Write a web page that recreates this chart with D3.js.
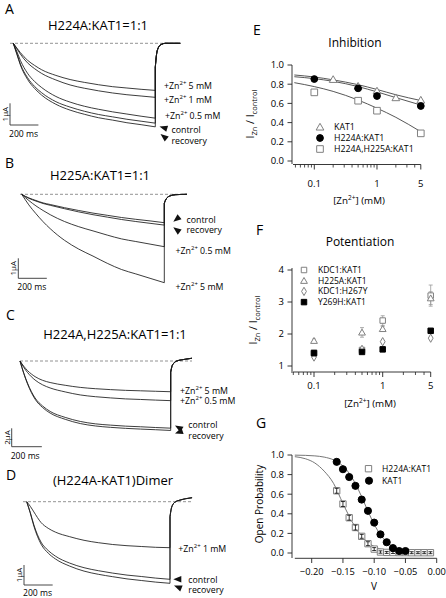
<!DOCTYPE html>
<html><head><meta charset="utf-8">
<script src="https://cdn.jsdelivr.net/npm/d3@7"></script>
<style>body{margin:0;background:#fff}svg{display:block;font-family:"Open Sans",sans-serif}</style>
</head><body><svg id="c" width="446" height="598"></svg>
<script>
// ================= DATA =================
// Current traces (µA) sampled at these times (ms) during the 1 s step
const stepTimes = [0,25,50,100,150,200,300,400,500,600,700,800,900,1000];

// Panel A  H224A:KAT1=1:1
const aZn5     = [0,-0.22,-0.43,-0.78,-1.02,-1.22,-1.48,-1.67,-1.80,-1.91,-2.00,-2.06,-2.12,-2.17];
const aZn1     = [0,-0.25,-0.50,-0.90,-1.17,-1.39,-1.69,-1.92,-2.07,-2.19,-2.29,-2.37,-2.43,-2.49];
const aZn05    = [0,-0.38,-0.79,-1.38,-1.76,-2.04,-2.45,-2.71,-2.90,-3.04,-3.16,-3.26,-3.36,-3.45];
const aControl = [0,-0.48,-0.96,-1.58,-1.99,-2.28,-2.69,-2.94,-3.13,-3.28,-3.39,-3.50,-3.59,-3.68];
const aRecov   = [0,-0.50,-1.00,-1.66,-2.08,-2.39,-2.81,-3.08,-3.27,-3.43,-3.54,-3.66,-3.75,-3.85];
const aTailT   = [0,8,20,40,70,110,176];
const aTail    = [-1.1,-0.55,-0.22,-0.06,0,0,0];

// Panel B  H225A:KAT1=1:1
const bControl = [0,-0.10,-0.18,-0.31,-0.43,-0.51,-0.67,-0.81,-0.94,-1.05,-1.16,-1.25,-1.33,-1.42];
const bRecov   = [0,-0.11,-0.20,-0.34,-0.46,-0.55,-0.72,-0.88,-1.02,-1.14,-1.26,-1.36,-1.45,-1.54];
const bZn05    = [0,-0.16,-0.31,-0.58,-0.81,-1.02,-1.36,-1.62,-1.83,-2.04,-2.23,-2.36,-2.49,-2.62];
const bZn5     = [0,-0.27,-0.53,-0.97,-1.37,-1.72,-2.30,-2.74,-3.09,-3.45,-3.76,-3.98,-4.20,-4.42];
const bTailT   = [0,8,20,40,80,159];
const bTail    = [-0.45,-0.3,-0.17,-0.08,-0.02,0];

// Panel C  H224A,H225A:KAT1=1:1
const cZn5     = [0,-0.57,-1.04,-1.70,-2.10,-2.34,-2.64,-2.87,-3.01,-3.11,-3.19,-3.24,-3.29,-3.34];
const cZn05    = [0,-0.69,-1.25,-2.07,-2.59,-2.93,-3.36,-3.69,-3.88,-4.01,-4.12,-4.18,-4.25,-4.31];
const cControl = [0,-1.31,-2.41,-4.02,-4.89,-5.48,-6.13,-6.57,-6.83,-6.97,-7.08,-7.15,-7.23,-7.30];
const cRecov   = [0,-1.36,-2.49,-4.15,-5.06,-5.66,-6.34,-6.80,-7.06,-7.21,-7.32,-7.40,-7.47,-7.55];
const cTailT   = [0,8,20,40,70,100,141];
const cTail    = [-1.2,-0.6,-0.25,0,0.12,0.2,0.3];

// Panel D  (H224A-KAT1)Dimer
const dZn1     = [0,-0.23,-0.51,-1.04,-1.33,-1.52,-1.75,-1.93,-2.05,-2.14,-2.20,-2.24,-2.28,-2.30];
const dControl = [0,-0.54,-1.16,-2.02,-2.44,-2.72,-3.07,-3.30,-3.45,-3.57,-3.67,-3.74,-3.82,-3.88];
const dRecov   = [0,-0.57,-1.22,-2.12,-2.57,-2.86,-3.22,-3.47,-3.63,-3.75,-3.86,-3.94,-4.02,-4.08];
const dTailT   = [0,8,20,40,70,110,154];
const dTail    = [-0.75,-0.38,-0.14,0,0.08,0.15,0.2];

// Panel E  Inhibition  (conc mM, Izn/Icontrol)
const eKAT1Conc  = [0.2,0.5,1,2,5];
const eKAT1Val   = [0.85,0.78,0.73,0.66,0.635];
const eH224AConc = [0.1,0.5,1,5];
const eH224AVal  = [0.854,0.757,0.677,0.573];
const eDMConc    = [0.1,0.5,1,5];
const eDMVal     = [0.715,0.628,0.524,0.288];
const eFitConc   = [0.048,0.1,0.2,0.5,1,2,5];
const eKAT1Fit   = [0.896,0.875,0.845,0.795,0.745,0.69,0.63];
const eH224AFit  = [0.878,0.858,0.83,0.775,0.72,0.66,0.583];
const eDMFit     = [0.816,0.775,0.725,0.635,0.55,0.455,0.305];
const eLegend    = ["KAT1","H224A:KAT1","H224A,H225A:KAT1"];
const eYTicks    = [0,0.2,0.4,0.6,0.8,1.0];
const logMajor   = [0.1,1,5];
const logMinor   = [0.05,0.06,0.07,0.08,0.09,0.2,0.3,0.4,0.5,0.6,0.7,0.8,0.9,2,3,4];

// Panel F  Potentiation
const fConc      = [0.1,0.5,1,5];
const fKDC1      = [1.42,1.5,2.42,3.2];
const fKDC1Err   = [0.05,0.06,0.15,0.33];
const fH225A     = [1.79,2.05,2.16,3.12];
const fH225AErr  = [0.05,0.15,0.08,0.2];
const fH267Y     = [1.28,1.52,1.76,1.87];
const fY269H     = [1.40,1.44,1.52,2.10];
const fLegend    = ["KDC1:KAT1","H225A:KAT1","KDC1:H267Y","Y269H:KAT1"];
const fYTicks    = [1,2,3,4];

// Panel G  Open probability vs V
const gKAT1V   = [-0.16,-0.15,-0.14,-0.13,-0.12,-0.11,-0.10,-0.09,-0.08,-0.07,-0.06,-0.05];
const gKAT1P   = [0.93,0.855,0.775,0.685,0.545,0.43,0.31,0.19,0.11,0.05,0.02,0.02];
const gH224AV  = [-0.16,-0.15,-0.14,-0.13,-0.12,-0.11,-0.10,-0.09,-0.08,-0.07,-0.06,-0.05,-0.04,-0.03,-0.02,-0.01];
const gH224AP  = [0.635,0.50,0.36,0.26,0.17,0.095,0.04,0.01,0.006,0.005,0.004,0.004,0.003,0.003,0.003,0.003];
const gH224AErr= [0.025,0.025,0.025,0.025,0.02,0.02,0.015,0.012,0.01,0.01,0.01,0.01,0.01,0.01,0.01,0.01];
const gFitV     = [-0.227,-0.21,-0.195,-0.18,-0.165,-0.15,-0.14,-0.13,-0.12,-0.11,-0.10,-0.09,-0.08,-0.07,-0.06,-0.05,-0.04,-0.03,-0.02,-0.01];
const gKAT1Fit  = [0.9987,0.9963,0.991,0.9785,0.95,0.887,0.813,0.707,0.573,0.427,0.293,0.187,0.113,0.066,0.038,0.0215,0.012,0.0067,0.0037,0.002];
const gH224AFit = [0.983,0.9616,0.9184,0.835,0.71,0.505,0.375,0.26,0.171,0.108,0.066,0.040,0.024,0.014,0.0083,0.0049,0.0029,0.002,0.001,0.0006];
const gXTicks   = [-0.20,-0.15,-0.10,-0.05,0.00];
const gYTicks   = [0,0.2,0.4,0.6,0.8,1.0];
const gLegend   = ["H224A:KAT1","KAT1"];

// ================= DRAWING =================
const svg = d3.select("#c");
const GRAY = "#808080";

function znLabel(g, x, y, conc, fs) {
  fs = fs || 8.8;
  const t = g.append("text").attr("x", x).attr("y", y).attr("font-size", fs);
  t.append("tspan").text("+Zn");
  t.append("tspan").attr("font-size", fs*0.68).attr("dy", -3.6).text("2+");
  t.append("tspan").attr("dy", 3.6).text(" " + conc);
}
function plainLabel(g, x, y, s, fs) {
  g.append("text").attr("x", x).attr("y", y).attr("font-size", fs || 8.8).text(s);
}
function arrow(g, tx, ty, dx, dy) {
  const L = 8, W = 3.2, n = Math.hypot(dx, dy);
  const ux = dx/n, uy = dy/n, px = -uy, py = ux;
  const bx = tx - L*ux, by = ty - L*uy;
  g.append("path")
    .attr("d", `M${tx},${ty}L${bx+W*px},${by+W*py}L${bx-W*px},${by-W*py}Z`)
    .attr("fill", "#111");
}

function tracePanel(cfg) {
  const g = svg.append("g");
  const x = d3.scaleLinear().domain([0, 1000]).range([cfg.x0, cfg.x0 + 1000*cfg.pxms]);
  const y = d3.scaleLinear().domain([0, -1]).range([cfg.y0, cfg.y0 + cfg.pxua]);
  g.append("text").attr("x", cfg.letter[0]).attr("y", cfg.letter[1]).attr("font-size", 14).text(cfg.letterText);
  g.append("text").attr("x", cfg.title[0]).attr("y", cfg.title[1]).attr("text-anchor", "middle")
    .attr("font-size", 13).text(cfg.titleText);
  g.append("line").attr("x1", cfg.dash[0]).attr("x2", cfg.dash[1]).attr("y1", y(0)).attr("y2", y(0))
    .attr("stroke", "#777").attr("stroke-width", 0.8).attr("stroke-dasharray", "3,2");
  const line = d3.line().x(d => x(d[0])).y(d => y(d[1])).curve(d3.curveMonotoneX);
  cfg.traces.forEach(tr => {
    const step = stepTimes.map((t, i) => [t, tr[i]]);
    const tail = cfg.tailT.map((t, i) => [1000 + t, cfg.tail[i]]);
    const d = line(step) + line(tail).replace(/^M/, "L");
    g.append("path").attr("d", d).attr("fill", "none").attr("stroke", "#1a1a1a").attr("stroke-width", 0.85);
  });
  // scale bar
  const sb = cfg.bar;
  const vLen = y(-sb.ua) - y(0), hLen = x(200) - x(0);
  g.append("path").attr("d", `M${sb.x},${sb.y - vLen}V${sb.y}H${sb.x + hLen}`)
    .attr("fill", "none").attr("stroke", "#333").attr("stroke-width", 0.9);
  g.append("text").attr("transform", `translate(${sb.x - 2},${sb.y - vLen/2}) rotate(-90)`)
    .attr("text-anchor", "middle").attr("font-size", 8).text(sb.ua + "µA");
  g.append("text").attr("x", sb.x - 1).attr("y", sb.y + (cfg.msDy || 12)).attr("font-size", 8.6).text("200 ms");
  cfg.labels(g);
}

tracePanel({
  letterText: "A", letter: [5, 14], titleText: "H224A:KAT1=1:1", title: [98, 30],
  x0: 13.3, pxms: 0.142, y0: 43.3, pxua: 21.7, dash: [10, 180],
  traces: [aZn5, aZn1, aZn05, aControl, aRecov], tailT: aTailT, tail: aTail,
  bar: {x: 10, y: 125, ua: 1},
  labels: g => {
    znLabel(g, 164, 88.5, "5 mM"); znLabel(g, 164, 102.5, "1 mM"); znLabel(g, 165, 118.5, "0.5 mM");
    plainLabel(g, 171.5, 132.5, "control"); plainLabel(g, 171.5, 143.5, "recovery");
    arrow(g, 159.5, 126.5, -1, -0.3); arrow(g, 160.5, 134, -1, -0.8);
  }
});
tracePanel({
  letterText: "B", letter: [5, 168], titleText: "H225A:KAT1=1:1", title: [100, 180],
  x0: 21.7, pxms: 0.1426, y0: 194.3, pxua: 20, dash: [20, 187],
  traces: [bControl, bRecov, bZn05, bZn5], tailT: bTailT, tail: bTail,
  bar: {x: 18.3, y: 278.3, ua: 1},
  labels: g => {
    plainLabel(g, 186.5, 222.5, "control"); plainLabel(g, 186.5, 233, "recovery");
    znLabel(g, 175.5, 253.5, "0.5 mM"); znLabel(g, 175.5, 289.5, "5 mM");
    arrow(g, 173.3, 221.7, -1, 0.8); arrow(g, 173.3, 227.3, -1, -0.75);
  }
});
tracePanel({
  letterText: "C", letter: [6, 320], titleText: "H224A,H225A:KAT1=1:1", title: [115, 339],
  x0: 20, pxms: 0.1507, y0: 361, pxua: 9.2, dash: [20, 192],
  traces: [cZn5, cZn05, cControl, cRecov], tailT: cTailT, tail: cTail,
  bar: {x: 11.7, y: 446.7, ua: 2},
  labels: g => {
    znLabel(g, 180, 393.5, "5 mM"); znLabel(g, 180, 404, "0.5 mM");
    plainLabel(g, 188.3, 427.5, "control"); plainLabel(g, 188.3, 438.5, "recovery");
    arrow(g, 175, 425.5, -1, -0.6); arrow(g, 175, 433.5, -1, 0.35);
  }
});
tracePanel({
  letterText: "D", letter: [6, 480], titleText: "(H224A-KAT1)Dimer", title: [113, 485],
  x0: 26.7, pxms: 0.1433, y0: 501.7, pxua: 20, dash: [23, 192],
  traces: [dZn1, dControl, dRecov], tailT: dTailT, tail: dTail,
  bar: {x: 24, y: 585, ua: 1}, msDy: 10.5,
  labels: g => {
    znLabel(g, 178.3, 551.8, "1 mM");
    plainLabel(g, 188.3, 582.5, "control"); plainLabel(g, 188.3, 593, "recovery");
    arrow(g, 173.3, 579.3, -1, 0); arrow(g, 174, 585.5, -1, -0.4);
  }
});

// ---- shared axis helpers ----
function yAxis(g, scale, ax, ticks, fmt, top, bottom) {
  g.append("line").attr("x1", ax).attr("x2", ax).attr("y1", top).attr("y2", bottom).attr("stroke", "#222").attr("stroke-width", 0.9);
  ticks.forEach(v => {
    g.append("line").attr("x1", ax - 4.5).attr("x2", ax).attr("y1", scale(v)).attr("y2", scale(v)).attr("stroke", "#222").attr("stroke-width", 0.9);
    g.append("text").attr("x", ax - 8).attr("y", scale(v)).attr("dy", "0.35em").attr("text-anchor", "end")
      .attr("font-size", 9.5).text(fmt(v));
  });
}
function logXAxis(g, scale, ay, left, right, labelY) {
  g.append("line").attr("x1", left).attr("x2", right).attr("y1", ay).attr("y2", ay).attr("stroke", "#222").attr("stroke-width", 0.9);
  logMinor.forEach(v => g.append("line").attr("x1", scale(v)).attr("x2", scale(v)).attr("y1", ay).attr("y2", ay + 3).attr("stroke", "#222").attr("stroke-width", 0.8));
  logMajor.forEach(v => {
    g.append("line").attr("x1", scale(v)).attr("x2", scale(v)).attr("y1", ay).attr("y2", ay + 5).attr("stroke", "#222").attr("stroke-width", 0.9);
    g.append("text").attr("x", scale(v)).attr("y", labelY).attr("text-anchor", "middle").attr("font-size", 9.5).text(String(v));
  });
}
function znAxisTitle(g, x, y) {
  const t = g.append("text").attr("x", x).attr("y", y).attr("text-anchor", "middle").attr("font-size", 9.8);
  t.append("tspan").text("[Zn");
  t.append("tspan").attr("font-size", 6.5).attr("dy", -4).text("2+");
  t.append("tspan").attr("dy", 4).text("] (mM)");
}
function ratioTitle(g, x, y) {
  const t = g.append("text").attr("transform", `translate(${x},${y}) rotate(-90)`).attr("text-anchor", "middle").attr("font-size", 10.5);
  t.append("tspan").text("I");
  t.append("tspan").attr("font-size", 7.5).attr("dy", 2.5).text("Zn");
  t.append("tspan").attr("dy", -2.5).text(" / I");
  t.append("tspan").attr("font-size", 7.5).attr("dy", 2.5).text("control");
}
function sym(g, type, size, x, y, filled) {
  g.append("path").attr("d", d3.symbol().type(type).size(size)())
    .attr("transform", `translate(${x},${y})`)
    .attr("fill", filled ? "#000" : "#fff").attr("stroke", filled ? "#000" : GRAY).attr("stroke-width", 1);
}
function errBar(g, x, y0, y1, color) {
  g.append("path").attr("d", `M${x},${y0}V${y1}M${x-2},${y0}H${x+2}M${x-2},${y1}H${x+2}`)
    .attr("stroke", color).attr("stroke-width", 0.8).attr("fill", "none");
}

// ---- Panel E ----
{
  const g = svg.append("g");
  const x = d3.scaleLog().domain([0.1, 5]).range([314.3, 420.8]);
  const y = d3.scaleLinear().domain([0, 1]).range([161, 65]);
  g.append("text").attr("x", 253).attr("y", 35).attr("font-size", 14).text("E");
  g.append("text").attr("x", 355).attr("y", 47).attr("text-anchor", "middle").attr("font-size", 12).text("Inhibition");
  yAxis(g, y, 292, eYTicks, d3.format(".1f"), 65, 164);
  logXAxis(g, x, 164.5, 293, x(5), 186.5);
  znAxisTitle(g, 359, 204);
  ratioTitle(g, 254, 114);
  const fl = d3.line().x((d, i) => x(eFitConc[i])).y(d => y(d)).curve(d3.curveMonotoneX);
  [eKAT1Fit, eH224AFit, eDMFit].forEach(f => g.append("path").attr("d", fl(f)).attr("fill", "none").attr("stroke", "#444").attr("stroke-width", 0.9));
  eKAT1Conc.forEach((c, i) => sym(g, d3.symbolTriangle, 26, x(c), y(eKAT1Val[i]) + 0.8, false));
  eDMConc.forEach((c, i) => sym(g, d3.symbolSquare, 44, x(c), y(eDMVal[i]), false));
  eH224AConc.forEach((c, i) => sym(g, d3.symbolCircle, 36, x(c), y(eH224AVal[i]), true));
  const ly = [127, 138, 149];
  sym(g, d3.symbolTriangle, 26, 320, ly[0] + 0.8, false);
  sym(g, d3.symbolCircle, 36, 320, ly[1], true);
  sym(g, d3.symbolSquare, 44, 320, ly[2], false);
  eLegend.forEach((s, i) => g.append("text").attr("x", 334).attr("y", ly[i]).attr("dy", "0.35em").attr("font-size", 8.8).text(s));
}

// ---- Panel F ----
{
  const g = svg.append("g");
  const x = d3.scaleLog().domain([0.1, 5]).range([314, 430.7]);
  const y = d3.scaleLinear().domain([1, 4]).range([366, 270]);
  g.append("text").attr("x", 256).attr("y", 235).attr("font-size", 14).text("F");
  g.append("text").attr("x", 360).attr("y", 246).attr("text-anchor", "middle").attr("font-size", 12).text("Potentiation");
  yAxis(g, y, 292, fYTicks, d3.format("d"), 268, 371);
  logXAxis(g, x, 372, 291, x(5), 388.5);
  znAxisTitle(g, 370, 407);
  ratioTitle(g, 257, 320);
  fConc.forEach((c, i) => {
    errBar(g, x(c), y(fKDC1[i] - fKDC1Err[i]), y(fKDC1[i] + fKDC1Err[i]), "#999");
    errBar(g, x(c), y(fH225A[i] - fH225AErr[i]), y(fH225A[i] + fH225AErr[i]), "#999");
  });
  fConc.forEach((c, i) => sym(g, d3.symbolSquare, 30, x(c), y(fKDC1[i]), false));
  fConc.forEach((c, i) => sym(g, d3.symbolTriangle, 20, x(c), y(fH225A[i]) + 0.7, false));
  fConc.forEach((c, i) => sym(g, d3.symbolDiamond, 20, x(c), y(fH267Y[i]), false));
  fConc.forEach((c, i) => sym(g, d3.symbolSquare, 30, x(c), y(fY269H[i]), true));
  const ly = [270, 280.7, 291.4, 302.1];
  sym(g, d3.symbolSquare, 30, 304, ly[0], false);
  sym(g, d3.symbolTriangle, 20, 304, ly[1] + 0.7, false);
  sym(g, d3.symbolDiamond, 20, 304, ly[2], false);
  sym(g, d3.symbolSquare, 30, 304, ly[3], true);
  fLegend.forEach((s, i) => g.append("text").attr("x", 318).attr("y", ly[i]).attr("dy", "0.35em").attr("font-size", 8.5).text(s));
}

// ---- Panel G ----
{
  const g = svg.append("g");
  const x = d3.scaleLinear().domain([-0.2, 0]).range([311.7, 436.7]);
  const y = d3.scaleLinear().domain([0, 1]).range([553, 455]);
  g.append("text").attr("x", 256).attr("y", 428).attr("font-size", 14).text("G");
  yAxis(g, y, 292, gYTicks, d3.format(".1f"), 455, 558);
  g.append("line").attr("x1", x(-0.227)).attr("x2", x(0)).attr("y1", 558.3).attr("y2", 558.3).attr("stroke", "#222").attr("stroke-width", 0.9);
  gXTicks.forEach(v => {
    g.append("line").attr("x1", x(v)).attr("x2", x(v)).attr("y1", 558.3).attr("y2", 563).attr("stroke", "#222").attr("stroke-width", 0.9);
    g.append("text").attr("x", x(v)).attr("y", 575).attr("text-anchor", "middle").attr("font-size", 9.3).text(d3.format(".2f")(v));
  });
  g.append("text").attr("x", 374).attr("y", 590).attr("text-anchor", "middle").attr("font-size", 10).text("V");
  g.append("text").attr("transform", "translate(263,504) rotate(-90)").attr("text-anchor", "middle").attr("font-size", 10).text("Open Probability");
  const fl = d3.line().x((d, i) => x(gFitV[i])).y(d => y(d)).curve(d3.curveMonotoneX);
  [gKAT1Fit, gH224AFit].forEach(f => g.append("path").attr("d", fl(f)).attr("fill", "none").attr("stroke", "#666").attr("stroke-width", 0.9));
  gH224AV.forEach((v, i) => sym(g, d3.symbolSquare, 40, x(v), y(gH224AP[i]), false));
  gH224AV.forEach((v, i) => errBar(g, x(v), y(gH224AP[i] - gH224AErr[i]), y(gH224AP[i] + gH224AErr[i]), "#000"));
  gKAT1V.forEach((v, i) => sym(g, d3.symbolCircle, 40, x(v), y(gKAT1P[i]), true));
  const ly = [468.7, 480.7];
  sym(g, d3.symbolSquare, 40, 368.5, ly[0], false);
  sym(g, d3.symbolCircle, 40, 369, ly[1], true);
  gLegend.forEach((s, i) => g.append("text").attr("x", 382).attr("y", ly[i]).attr("dy", "0.35em").attr("font-size", 8.6).text(s));
}
</script></body></html>
